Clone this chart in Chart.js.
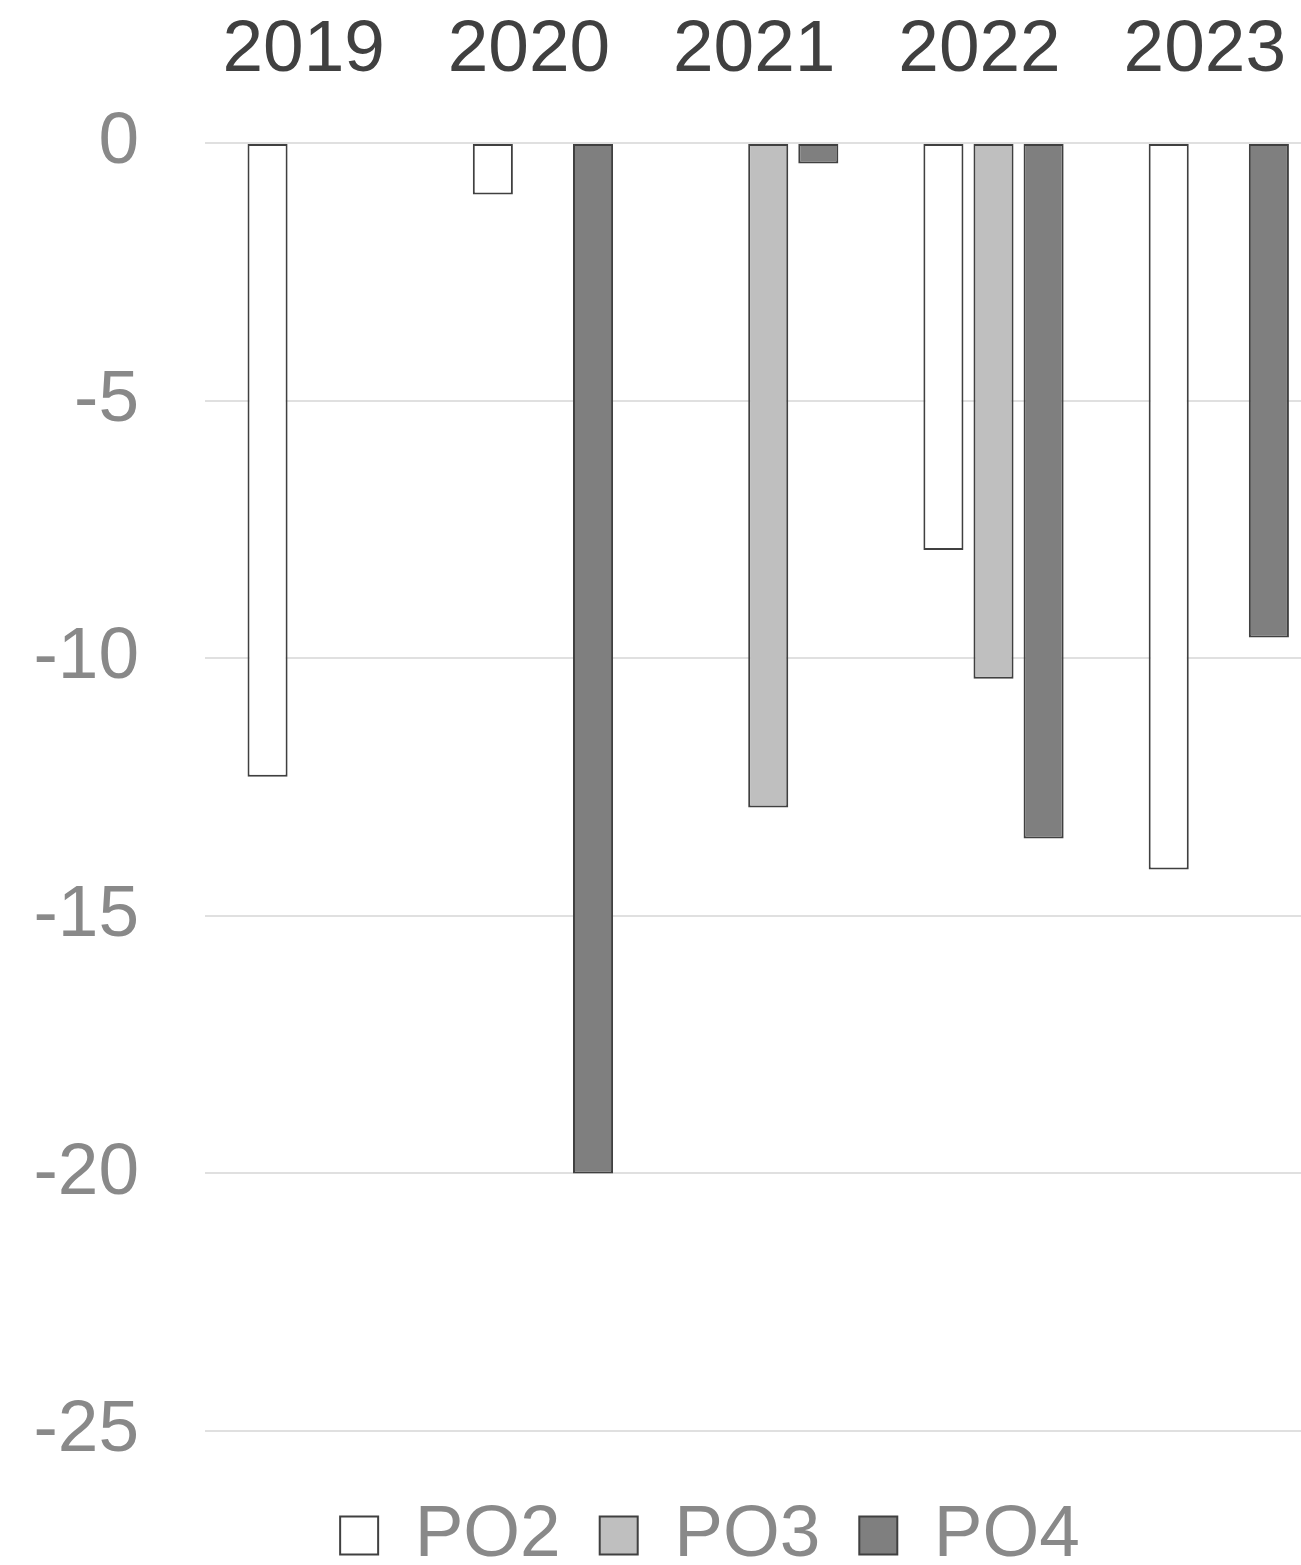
<!DOCTYPE html>
<html>
<head>
<meta charset="utf-8">
<script src="https://cdn.jsdelivr.net/npm/chart.js@4"></script>
<style>
  html, body { margin: 0; padding: 0; background: #fff; overflow: hidden; }
  #wrap { width: 1301px; height: 1565px; overflow: hidden; }
  #box { width: 1340px; height: 1565px; }
</style>
</head>
<body>
<div id="wrap"><div id="box"><canvas id="myChart"></canvas></div></div>
<script>
const years = ['2019', '2020', '2021', '2022', '2023'];
const po2 = [-12.3, -1.0, null, -7.9, -14.1];
const po3 = [null, null, -12.9, -10.4, null];
const po4 = [null, -20.0, -0.4, -13.5, -9.6];
const yTicks = [0, -5, -10, -15, -20, -25];

const font = 'Arial, "Liberation Sans", sans-serif';

// legend box height fixed, and legend nudged to where the original sits
const legendTweak = {
    id: 'legendTweak',
    afterInit(chart) {
        const fit = chart.legend.fit;
        chart.legend.fit = function () {
            fit.call(this);
            this.height = 134;
        };
    },
    afterLayout(chart) {
        const lg = chart.legend;
        lg.left += 40; lg.right += 40;
        lg.top += 29; lg.bottom += 29;
    }
};

const ctx = document.getElementById('myChart').getContext('2d');
const myChart = new Chart(ctx, {
    type: 'bar',
    data: {
        labels: years,
        datasets: [{
            label: 'PO2',
            data: po2,
            backgroundColor: '#ffffff',
            borderColor: '#404040',
            borderWidth: 2,
            borderSkipped: false
        }, {
            label: 'PO3',
            data: po3,
            backgroundColor: '#bfbfbf',
            borderColor: '#404040',
            borderWidth: 2,
            borderSkipped: false
        }, {
            label: 'PO4',
            data: po4,
            backgroundColor: '#7f7f7f',
            borderColor: '#404040',
            borderWidth: 2,
            borderSkipped: false
        }]
    },
    options: {
        responsive: true,
        maintainAspectRatio: false,
        animation: false,
        categoryPercentage: 0.667,
        barPercentage: 0.8,
        layout: { padding: 0 },
        scales: {
            x: {
                position: 'top',
                grid: { display: false },
                border: { display: false },
                ticks: {
                    color: '#404040',
                    font: { family: font, size: 73 },
                    padding: 40,
                    maxRotation: 0,
                    labelOffset: -14
                },
                afterFit(scale) { scale.height = 143; }
            },
            y: {
                min: -25,
                max: 0,
                afterBuildTicks(scale) {
                    scale.ticks = yTicks.map(v => ({ value: v }));
                },
                grid: { color: '#e0e0e0', lineWidth: 2, drawTicks: false },
                border: { display: false },
                ticks: {
                    color: '#898989',
                    font: { family: font, size: 73 },
                    padding: 66
                },
                afterFit(scale) { scale.width = 205; }
            }
        },
        plugins: {
            legend: {
                position: 'bottom',
                labels: {
                    color: '#898989',
                    font: { family: font, size: 73 },
                    boxWidth: 38,
                    boxHeight: 38,
                    padding: 39
                }
            },
            tooltip: { enabled: false }
        }
    },
    plugins: [legendTweak]
});
</script>
</body>
</html>
